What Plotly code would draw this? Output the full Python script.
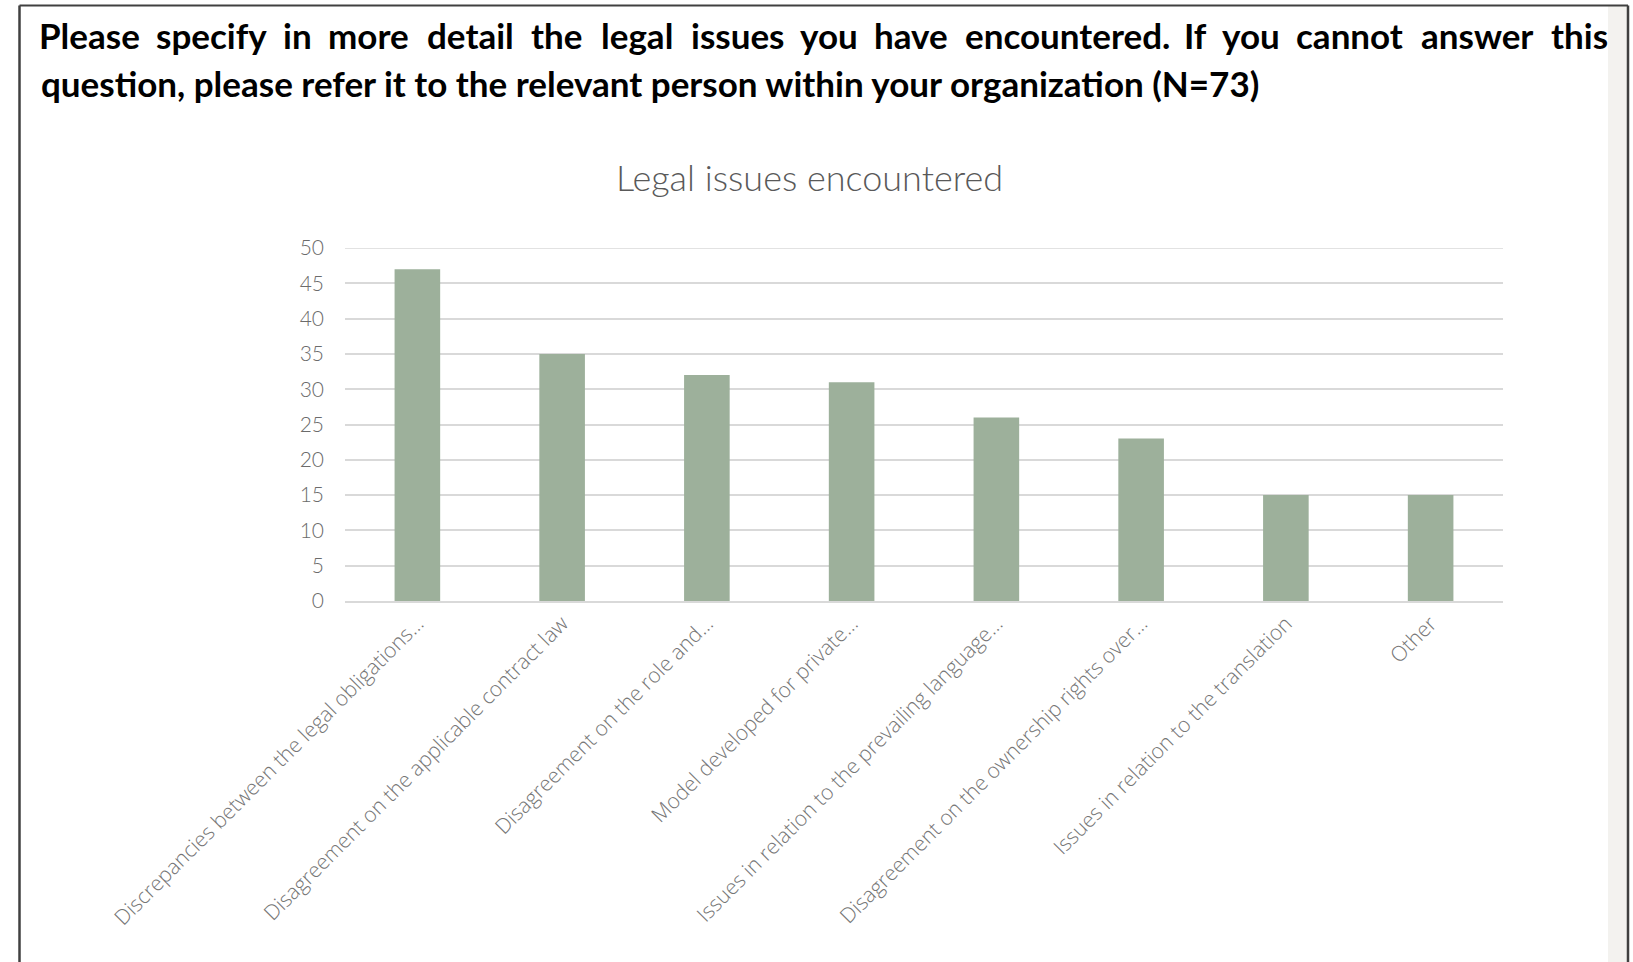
import plotly.graph_objects as go

# ---- data ----
categories = [
    "Discrepancies between the legal obligations…",
    "Disagreement on the applicable contract law",
    "Disagreement on the role and…",
    "Model developed for private…",
    "Issues in relation to the prevailing language…",
    "Disagreement on the ownership rights over…",
    "Issues in relation to the translation",
    "Other",
]
values = [47, 35, 32, 31, 26, 23, 15, 15]
y_ticks = [0, 5, 10, 15, 20, 25, 30, 35, 40, 45, 50]

heading_line1 = "Please specify in more detail the legal issues you have encountered. If you cannot answer this"
heading_line2 = "question, please refer it to the relevant person within your organization (N=73)"
chart_title = "Legal issues encountered"

# ---- layout geometry (pixels) ----
W, H = 1633, 962
L, R, T, B = 345, 1503, 248, 601   # plot area edges
PW, PH = R - L, B - T

def px_x(px):
    return (px - L) / PW

def px_y(py):
    return (B - py) / PH

fig = go.Figure()
fig.add_trace(go.Bar(
    x=categories, y=values,
    marker=dict(color="#9db09b", line=dict(width=0)),
    width=0.315,
    hoverinfo="x+y",
))

# ---- heading: line 1 justified word by word ----
def em_width(word):
    w = 0.0
    for ch in word:
        if ch in "iljf.,()I!'":
            w += 0.25
        elif ch in "rt":
            w += 0.35
        elif ch in "s":
            w += 0.40
        elif ch in "mwMW":
            w += 0.80
        elif ch.isupper():
            w += 0.58
        else:
            w += 0.50
    return w

words = heading_line1.split(" ")
line_left, line_right = 38.5, 1607.0
gap = 18.0
total_em = sum(em_width(w) for w in words)
k = (line_right - line_left - gap * (len(words) - 1)) / total_em
annotations = []
cursor = line_left
head_font = dict(family="Lato", size=35, color="#000000", weight="bold")
for w in words:
    ww = em_width(w) * k
    annotations.append(dict(
        x=px_x(cursor + ww / 2), y=px_y(35), xref="paper", yref="paper",
        text=w, showarrow=False, xanchor="center", yanchor="middle",
        font=head_font,
    ))
    cursor += ww + gap

annotations.append(dict(
    x=px_x(line_left), y=px_y(83), xref="paper", yref="paper",
    text=heading_line2, showarrow=False, xanchor="left", yanchor="middle",
    font=head_font,
))

annotations.append(dict(
    x=px_x(809), y=px_y(177), xref="paper", yref="paper",
    text=chart_title, showarrow=False, xanchor="center", yanchor="middle",
    font=dict(family="Lato", size=36, color="#595959", weight=300),
))

# ---- frame shapes ----
shapes = [
    dict(type="rect", xref="paper", yref="paper",
         x0=px_x(1608), x1=px_x(1627), y0=px_y(962), y1=px_y(6),
         fillcolor="#f3f2ef", line=dict(width=0), layer="below"),
    dict(type="line", xref="paper", yref="paper",
         x0=px_x(19.5), x1=px_x(1628), y0=px_y(5.5), y1=px_y(5.5),
         line=dict(color="#404040", width=2)),
    dict(type="line", xref="paper", yref="paper",
         x0=px_x(19.5), x1=px_x(19.5), y0=px_y(5.5), y1=px_y(970),
         line=dict(color="#404040", width=2.5)),
    dict(type="line", xref="paper", yref="paper",
         x0=px_x(1628), x1=px_x(1628), y0=px_y(5.5), y1=px_y(970),
         line=dict(color="#404040", width=2.5)),
    # top gridline at the range end (plotly skips it at the edge)
    dict(type="line", xref="paper", yref="y", x0=0, x1=1,
         y0=y_ticks[-1], y1=y_ticks[-1],
         line=dict(color="#d9d9d9", width=1.5), layer="below"),
]

fig.update_layout(
    width=W, height=H,
    margin=dict(l=L, r=W - R, t=T, b=H - B, pad=0),
    paper_bgcolor="#ffffff", plot_bgcolor="#ffffff",
    showlegend=False,
    annotations=annotations,
    shapes=shapes,
    bargap=0.685,
)
fig.update_xaxes(
    type="category", tickangle=-45,
    tickfont=dict(family="Open Sans", size=21, color="#767676", weight=300),
    showgrid=False, showline=True, linecolor="#d9d9d9", linewidth=2,
    ticks="", automargin=False,
)
fig.update_yaxes(
    range=[0, 50], tickvals=y_ticks, ticktext=[str(v) for v in y_ticks],
    tickfont=dict(family="Lato", size=21, color="#6b6b6b", weight=300),
    showgrid=True, gridcolor="#d9d9d9", gridwidth=1.5,
    zeroline=False, showline=False, ticks="", ticklabelstandoff=20,
    automargin=False,
)

fig.write_html("out.html", config={"displayModeBar": False},
               post_script="document.body.style.margin='0';")
